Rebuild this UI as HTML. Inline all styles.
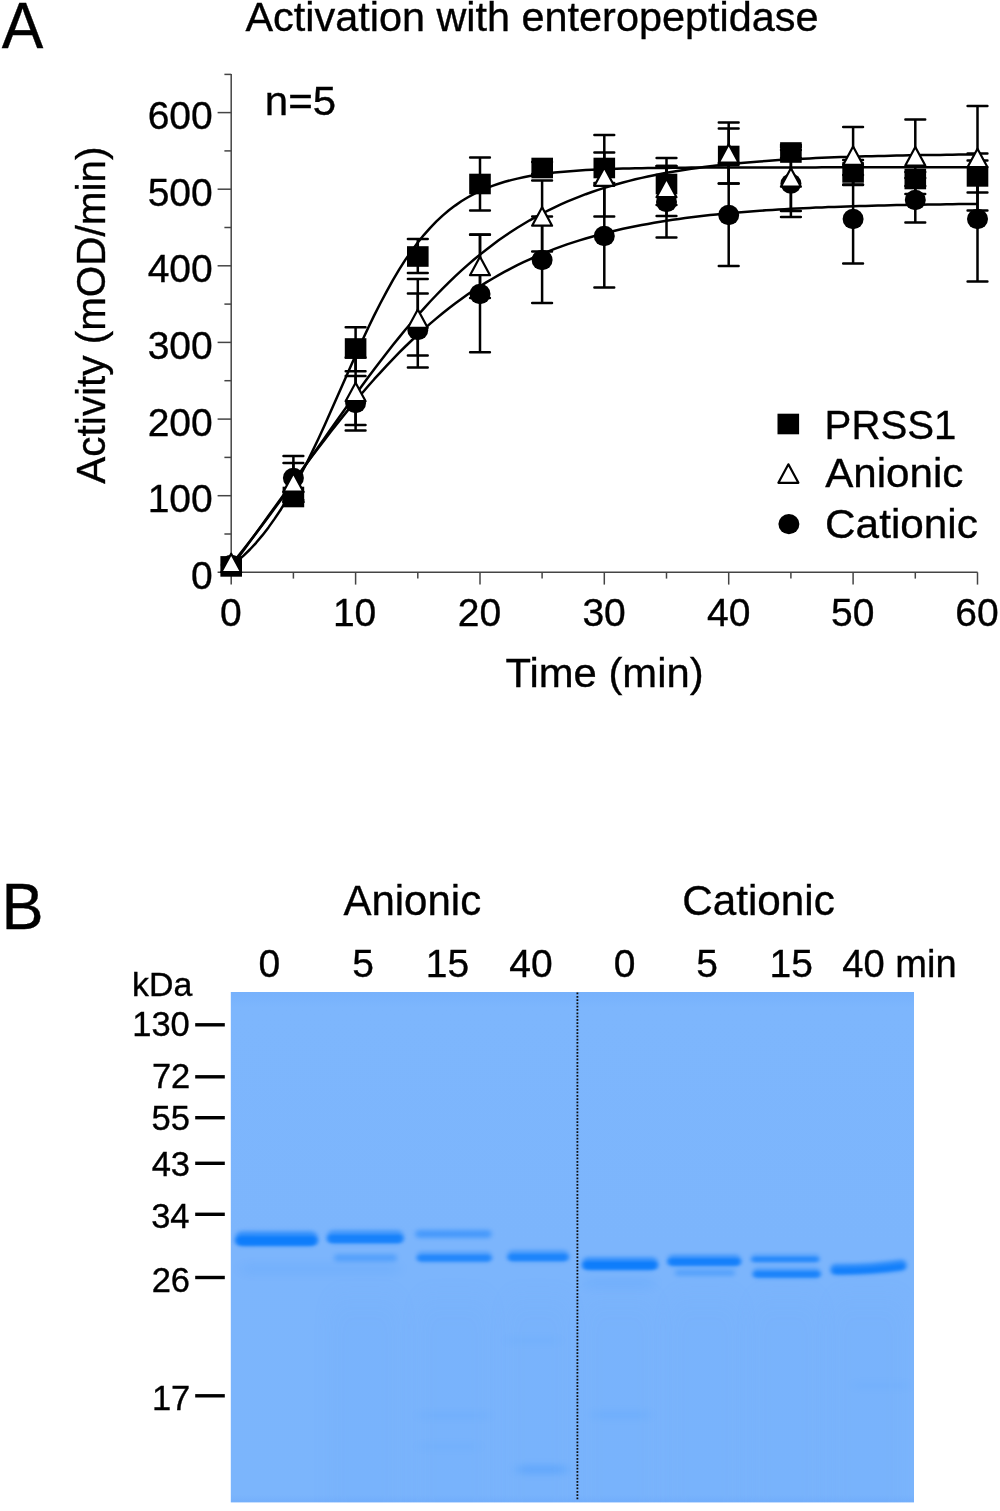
<!DOCTYPE html>
<html lang="en"><head><meta charset="utf-8"><title>Activation with enteropeptidase</title>
<style>html,body{margin:0;padding:0;background:#fff}body{width:1000px;height:1511px;overflow:hidden}svg{display:block}text{font-family:"Liberation Sans",Arial,Helvetica,sans-serif;fill:#000;stroke:#000;stroke-width:0.35px}</style></head><body>
<svg width="1000" height="1511" viewBox="0 0 1000 1511">
<rect width="1000" height="1511" fill="#fff"/>
<g id="panelA">
<text x="1.84" y="47.8" font-size="64" textLength="41.58" lengthAdjust="spacingAndGlyphs" >A</text>
<text x="245.50" y="31" font-size="41.4" >Activation with enteropeptidase</text>
<text x="264.76" y="115" font-size="41.4" textLength="71.38" lengthAdjust="spacingAndGlyphs" >n=5</text>
<g stroke="#444" stroke-width="1.5" fill="none">
<path d="M231.2 74 V584.6"/>
<path d="M217.6 572.3 H977.6"/>
<path d="M224.4 534.0 H231.2"/>
<path d="M217.6 495.7 H231.2"/>
<path d="M224.4 457.4 H231.2"/>
<path d="M217.6 419.1 H231.2"/>
<path d="M224.4 380.7 H231.2"/>
<path d="M217.6 342.4 H231.2"/>
<path d="M224.4 304.1 H231.2"/>
<path d="M217.6 265.8 H231.2"/>
<path d="M224.4 227.5 H231.2"/>
<path d="M217.6 189.2 H231.2"/>
<path d="M224.4 150.9 H231.2"/>
<path d="M217.6 112.6 H231.2"/>
<path d="M224.4 74.4 H231.2"/>
<path d="M293.4 572.3 V578.6"/>
<path d="M355.6 572.3 V584.6"/>
<path d="M417.8 572.3 V578.6"/>
<path d="M480.0 572.3 V584.6"/>
<path d="M542.1 572.3 V578.6"/>
<path d="M604.3 572.3 V584.6"/>
<path d="M666.5 572.3 V578.6"/>
<path d="M728.7 572.3 V584.6"/>
<path d="M790.9 572.3 V578.6"/>
<path d="M853.1 572.3 V584.6"/>
<path d="M915.3 572.3 V578.6"/>
<path d="M977.5 572.3 V584.6"/>
</g>
<text x="191.02" y="588.7" font-size="39" >0</text>
<text x="147.63" y="512.1" font-size="39" >100</text>
<text x="147.63" y="435.5" font-size="39" >200</text>
<text x="147.63" y="358.8" font-size="39" >300</text>
<text x="147.63" y="282.2" font-size="39" >400</text>
<text x="147.63" y="205.6" font-size="39" >500</text>
<text x="147.63" y="129.0" font-size="39" >600</text>
<text x="220.03" y="626.4" font-size="39" >0</text>
<text x="332.90" y="626.4" font-size="39" >10</text>
<text x="457.77" y="626.4" font-size="39" >20</text>
<text x="582.40" y="626.4" font-size="39" >30</text>
<text x="707.07" y="626.4" font-size="39" >40</text>
<text x="831.11" y="626.4" font-size="39" >50</text>
<text x="955.29" y="626.4" font-size="39" >60</text>
<text x="505.56" y="687.2" font-size="41.4" textLength="198.07" lengthAdjust="spacingAndGlyphs" >Time (min)</text>
<text transform="translate(105,483.7) rotate(-90)" font-size="41.4" textLength="337.2" lengthAdjust="spacingAndGlyphs">Activity (mOD/min)</text>
<path d="M231.2 567.1 L237.4 558.7 L243.6 550.2 L249.9 541.6 L256.1 533.1 L262.3 524.5 L268.5 515.8 L274.7 507.2 L281.0 498.6 L287.2 490.0 L293.4 481.5 L299.6 473.0 L305.8 464.6 L312.0 456.3 L318.3 448.0 L324.5 439.9 L330.7 431.8 L336.9 423.9 L343.1 416.1 L349.4 408.4 L355.6 400.9 L361.8 393.5 L368.0 386.3 L374.2 379.2 L380.5 372.3 L386.7 365.6 L392.9 359.1 L399.1 352.7 L405.3 346.5 L411.6 340.5 L417.8 334.7 L424.0 329.1 L430.2 323.6 L436.4 318.4 L442.6 313.3 L448.9 308.3 L455.1 303.6 L461.3 299.0 L467.5 294.6 L473.7 290.4 L480.0 286.4 L486.2 282.4 L492.4 278.7 L498.6 275.1 L504.8 271.7 L511.1 268.4 L517.3 265.2 L523.5 262.2 L529.7 259.3 L535.9 256.5 L542.1 253.9 L548.4 251.3 L554.6 248.9 L560.8 246.6 L567.0 244.4 L573.2 242.4 L579.5 240.4 L585.7 238.5 L591.9 236.7 L598.1 234.9 L604.3 233.3 L610.6 231.7 L616.8 230.3 L623.0 228.8 L629.2 227.5 L635.4 226.2 L641.7 225.0 L647.9 223.9 L654.1 222.8 L660.3 221.7 L666.5 220.7 L672.7 219.8 L679.0 218.9 L685.2 218.1 L691.4 217.3 L697.6 216.5 L703.8 215.8 L710.1 215.1 L716.3 214.4 L722.5 213.8 L728.7 213.2 L734.9 212.7 L741.2 212.2 L747.4 211.7 L753.6 211.2 L759.8 210.8 L766.0 210.3 L772.3 209.9 L778.5 209.5 L784.7 209.2 L790.9 208.8 L797.1 208.5 L803.3 208.2 L809.6 207.9 L815.8 207.6 L822.0 207.4 L828.2 207.1 L834.4 206.9 L840.7 206.7 L846.9 206.5 L853.1 206.3 L859.3 206.1 L865.5 205.9 L871.8 205.7 L878.0 205.6 L884.2 205.4 L890.4 205.3 L896.6 205.1 L902.9 205.0 L909.1 204.9 L915.3 204.8 L921.5 204.7 L927.7 204.6 L933.9 204.5 L940.2 204.4 L946.4 204.3 L952.6 204.2 L958.8 204.1 L965.0 204.0 L971.3 204.0 L977.5 203.9" fill="none" stroke="#000" stroke-width="2.5" stroke-linejoin="round"/>
<path d="M231.2 566.1 L237.4 561.1 L243.6 555.6 L249.9 549.5 L256.1 542.8 L262.3 535.4 L268.5 527.4 L274.7 518.6 L281.0 509.2 L287.2 499.1 L293.4 488.3 L299.6 476.8 L305.8 464.7 L312.0 452.1 L318.3 439.0 L324.5 425.4 L330.7 411.6 L336.9 397.5 L343.1 383.4 L349.4 369.3 L355.6 355.3 L361.8 341.6 L368.0 328.3 L374.2 315.4 L380.5 303.0 L386.7 291.3 L392.9 280.1 L399.1 269.7 L405.3 259.9 L411.6 250.9 L417.8 242.5 L424.0 234.8 L430.2 227.8 L436.4 221.4 L442.6 215.6 L448.9 210.3 L455.1 205.6 L461.3 201.3 L467.5 197.5 L473.7 194.1 L480.0 191.0 L486.2 188.3 L492.4 185.9 L498.6 183.7 L504.8 181.8 L511.1 180.1 L517.3 178.6 L523.5 177.3 L529.7 176.1 L535.9 175.0 L542.1 174.1 L548.4 173.3 L554.6 172.6 L560.8 172.0 L567.0 171.4 L573.2 170.9 L579.5 170.5 L585.7 170.1 L591.9 169.8 L598.1 169.5 L604.3 169.2 L610.6 169.0 L616.8 168.8 L623.0 168.6 L629.2 168.5 L635.4 168.3 L641.7 168.2 L647.9 168.1 L654.1 168.0 L660.3 167.9 L666.5 167.9 L672.7 167.8 L679.0 167.7 L685.2 167.7 L691.4 167.6 L697.6 167.6 L703.8 167.6 L710.1 167.5 L716.3 167.5 L722.5 167.5 L728.7 167.5 L734.9 167.5 L741.2 167.4 L747.4 167.4 L753.6 167.4 L759.8 167.4 L766.0 167.4 L772.3 167.4 L778.5 167.4 L784.7 167.4 L790.9 167.4 L797.1 167.4 L803.3 167.4 L809.6 167.4 L815.8 167.4 L822.0 167.3 L828.2 167.3 L834.4 167.3 L840.7 167.3 L846.9 167.3 L853.1 167.3 L859.3 167.3 L865.5 167.3 L871.8 167.3 L878.0 167.3 L884.2 167.3 L890.4 167.3 L896.6 167.3 L902.9 167.3 L909.1 167.3 L915.3 167.3 L921.5 167.3 L927.7 167.3 L933.9 167.3 L940.2 167.3 L946.4 167.3 L952.6 167.3 L958.8 167.3 L965.0 167.3 L971.3 167.3 L977.5 167.3" fill="none" stroke="#000" stroke-width="2.5" stroke-linejoin="round"/>
<path d="M231.2 564.6 L237.4 557.0 L243.6 549.2 L249.9 541.3 L256.1 533.3 L262.3 525.1 L268.5 516.8 L274.7 508.3 L281.0 499.8 L287.2 491.1 L293.4 482.4 L299.6 473.6 L305.8 464.8 L312.0 455.9 L318.3 447.1 L324.5 438.2 L330.7 429.3 L336.9 420.5 L343.1 411.8 L349.4 403.0 L355.6 394.4 L361.8 385.9 L368.0 377.5 L374.2 369.2 L380.5 361.0 L386.7 353.0 L392.9 345.1 L399.1 337.4 L405.3 329.8 L411.6 322.5 L417.8 315.3 L424.0 308.3 L430.2 301.5 L436.4 295.0 L442.6 288.6 L448.9 282.4 L455.1 276.4 L461.3 270.7 L467.5 265.1 L473.7 259.8 L480.0 254.6 L486.2 249.7 L492.4 244.9 L498.6 240.3 L504.8 236.0 L511.1 231.8 L517.3 227.8 L523.5 224.0 L529.7 220.3 L535.9 216.8 L542.1 213.5 L548.4 210.3 L554.6 207.3 L560.8 204.4 L567.0 201.7 L573.2 199.1 L579.5 196.6 L585.7 194.2 L591.9 192.0 L598.1 189.9 L604.3 187.9 L610.6 186.0 L616.8 184.2 L623.0 182.5 L629.2 180.9 L635.4 179.3 L641.7 177.9 L647.9 176.5 L654.1 175.2 L660.3 174.0 L666.5 172.8 L672.7 171.7 L679.0 170.7 L685.2 169.7 L691.4 168.8 L697.6 167.9 L703.8 167.1 L710.1 166.3 L716.3 165.6 L722.5 164.9 L728.7 164.2 L734.9 163.6 L741.2 163.0 L747.4 162.4 L753.6 161.9 L759.8 161.4 L766.0 161.0 L772.3 160.5 L778.5 160.1 L784.7 159.7 L790.9 159.4 L797.1 159.0 L803.3 158.7 L809.6 158.4 L815.8 158.1 L822.0 157.8 L828.2 157.6 L834.4 157.3 L840.7 157.1 L846.9 156.9 L853.1 156.7 L859.3 156.5 L865.5 156.3 L871.8 156.2 L878.0 156.0 L884.2 155.9 L890.4 155.7 L896.6 155.6 L902.9 155.5 L909.1 155.3 L915.3 155.2 L921.5 155.1 L927.7 155.0 L933.9 154.9 L940.2 154.9 L946.4 154.8 L952.6 154.7 L958.8 154.6 L965.0 154.6 L971.3 154.5 L977.5 154.4" fill="none" stroke="#000" stroke-width="2.5" stroke-linejoin="round"/>
<g stroke="#000" stroke-width="2.5" stroke-linecap="round" fill="none">
<path d="M293.4 456 V500 M283.5 456 H303.3 M283.5 500 H303.3"/>
<path d="M355.6 376 V430.6 M345.7 376 H365.5 M345.7 430.6 H365.5"/>
<path d="M417.8 293.4 V367.6 M407.9 293.4 H427.7 M407.9 367.6 H427.7"/>
<path d="M480.0 234.8 V352.2 M470.1 234.8 H489.9 M470.1 352.2 H489.9"/>
<path d="M542.1 216.4 V303 M532.2 216.4 H552.0 M532.2 303 H552.0"/>
<path d="M604.3 185 V287.5 M594.4 185 H614.2 M594.4 287.5 H614.2"/>
<path d="M666.5 166 V237.6 M656.6 166 H676.4 M656.6 237.6 H676.4"/>
<path d="M728.7 164 V266 M718.8 164 H738.6 M718.8 266 H738.6"/>
<path d="M790.9 150 V217 M781.0 150 H800.8 M781.0 217 H800.8"/>
<path d="M853.1 175 V263.5 M843.2 175 H863.0 M843.2 263.5 H863.0"/>
<path d="M915.3 178 V222.6 M905.4 178 H925.2 M905.4 222.6 H925.2"/>
<path d="M977.5 153.6 V281.5 M967.6 153.6 H987.4 M967.6 281.5 H987.4"/>
</g>
<ellipse cx="231.2" cy="565.0" rx="10.5" ry="10.2" fill="#000"/>
<ellipse cx="293.4" cy="478.0" rx="10.5" ry="10.2" fill="#000"/>
<ellipse cx="355.6" cy="403.0" rx="10.5" ry="10.2" fill="#000"/>
<ellipse cx="417.8" cy="330.0" rx="10.5" ry="10.2" fill="#000"/>
<ellipse cx="480.0" cy="294.0" rx="10.5" ry="10.2" fill="#000"/>
<ellipse cx="542.1" cy="260.0" rx="10.5" ry="10.2" fill="#000"/>
<ellipse cx="604.3" cy="236.0" rx="10.5" ry="10.2" fill="#000"/>
<ellipse cx="666.5" cy="202.0" rx="10.5" ry="10.2" fill="#000"/>
<ellipse cx="728.7" cy="215.0" rx="10.5" ry="10.2" fill="#000"/>
<ellipse cx="790.9" cy="183.6" rx="10.5" ry="10.2" fill="#000"/>
<ellipse cx="853.1" cy="219.0" rx="10.5" ry="10.2" fill="#000"/>
<ellipse cx="915.3" cy="200.0" rx="10.5" ry="10.2" fill="#000"/>
<ellipse cx="977.5" cy="219.0" rx="10.5" ry="10.2" fill="#000"/>
<g stroke="#000" stroke-width="2.5" stroke-linecap="round" fill="none">
<path d="M293.4 492 V502 M283.5 492 H303.3 M283.5 502 H303.3"/>
<path d="M355.6 327.2 V371.2 M345.7 327.2 H365.5 M345.7 371.2 H365.5"/>
<path d="M417.8 239 V273 M407.9 239 H427.7 M407.9 273 H427.7"/>
<path d="M480.0 157.4 V210.4 M470.1 157.4 H489.9 M470.1 210.4 H489.9"/>
<path d="M542.1 162 V174 M532.2 162 H552.0 M532.2 174 H552.0"/>
<path d="M604.3 152.6 V183 M594.4 152.6 H614.2 M594.4 183 H614.2"/>
<path d="M666.5 158 V216 M656.6 158 H676.4 M656.6 216 H676.4"/>
<path d="M728.7 128.6 V183.6 M718.8 128.6 H738.6 M718.8 183.6 H738.6"/>
<path d="M790.9 147 V158 M781.0 147 H800.8 M781.0 158 H800.8"/>
<path d="M853.1 160 V185 M843.2 160 H863.0 M843.2 185 H863.0"/>
<path d="M915.3 172 V186 M905.4 172 H925.2 M905.4 186 H925.2"/>
<path d="M977.5 160.4 V192.4 M967.6 160.4 H987.4 M967.6 192.4 H987.4"/>
</g>
<rect x="220.4" y="556.1" width="21.6" height="20.6" fill="#000"/>
<rect x="282.6" y="486.7" width="21.6" height="20.6" fill="#000"/>
<rect x="344.8" y="338.2" width="21.6" height="20.6" fill="#000"/>
<rect x="407.0" y="246.2" width="21.6" height="20.6" fill="#000"/>
<rect x="469.2" y="173.7" width="21.6" height="20.6" fill="#000"/>
<rect x="531.4" y="157.7" width="21.6" height="20.6" fill="#000"/>
<rect x="593.5" y="157.7" width="21.6" height="20.6" fill="#000"/>
<rect x="655.7" y="173.7" width="21.6" height="20.6" fill="#000"/>
<rect x="717.9" y="145.7" width="21.6" height="20.6" fill="#000"/>
<rect x="780.1" y="142.2" width="21.6" height="20.6" fill="#000"/>
<rect x="842.3" y="162.1" width="21.6" height="20.6" fill="#000"/>
<rect x="904.5" y="168.7" width="21.6" height="20.6" fill="#000"/>
<rect x="966.7" y="166.1" width="21.6" height="20.6" fill="#000"/>
<g stroke="#000" stroke-width="2.5" stroke-linecap="round" fill="none">
<path d="M293.4 463 V502 M283.5 463 H303.3 M283.5 502 H303.3"/>
<path d="M355.6 357.6 V425 M345.7 357.6 H365.5 M345.7 425 H365.5"/>
<path d="M417.8 279 V355.4 M407.9 279 H427.7 M407.9 355.4 H427.7"/>
<path d="M480.0 234.6 V298 M470.1 234.6 H489.9 M470.1 298 H489.9"/>
<path d="M542.1 180.4 V251.4 M532.2 180.4 H552.0 M532.2 251.4 H552.0"/>
<path d="M604.3 135 V216.4 M594.4 135 H614.2 M594.4 216.4 H614.2"/>
<path d="M666.5 166 V205 M656.6 166 H676.4 M656.6 205 H676.4"/>
<path d="M728.7 122.6 V183.6 M718.8 122.6 H738.6 M718.8 183.6 H738.6"/>
<path d="M790.9 145 V211 M781.0 145 H800.8 M781.0 211 H800.8"/>
<path d="M853.1 127 V184.4 M843.2 127 H863.0 M843.2 184.4 H863.0"/>
<path d="M915.3 119.6 V194 M905.4 119.6 H925.2 M905.4 194 H925.2"/>
<path d="M977.5 106 V210.6 M967.6 106 H987.4 M967.6 210.6 H987.4"/>
</g>
<path d="M231.2 553.7 L241.2 572.2 H221.2 Z" fill="#fff" stroke="#000" stroke-width="2.2" stroke-linejoin="round"/>
<path d="M293.4 473.2 L303.4 491.7 H283.4 Z" fill="#fff" stroke="#000" stroke-width="2.2" stroke-linejoin="round"/>
<path d="M355.6 382.7 L365.6 401.2 H345.6 Z" fill="#fff" stroke="#000" stroke-width="2.2" stroke-linejoin="round"/>
<path d="M417.8 309.4 L427.8 327.9 H407.8 Z" fill="#fff" stroke="#000" stroke-width="2.2" stroke-linejoin="round"/>
<path d="M480.0 256.7 L490.0 275.2 H470.0 Z" fill="#fff" stroke="#000" stroke-width="2.2" stroke-linejoin="round"/>
<path d="M542.1 207.2 L552.1 225.7 H532.1 Z" fill="#fff" stroke="#000" stroke-width="2.2" stroke-linejoin="round"/>
<path d="M604.3 167.4 L614.3 185.9 H594.3 Z" fill="#fff" stroke="#000" stroke-width="2.2" stroke-linejoin="round"/>
<path d="M666.5 178.7 L676.5 197.2 H656.5 Z" fill="#fff" stroke="#000" stroke-width="2.2" stroke-linejoin="round"/>
<path d="M728.7 144.2 L738.7 162.7 H718.7 Z" fill="#fff" stroke="#000" stroke-width="2.2" stroke-linejoin="round"/>
<path d="M790.9 168.2 L800.9 186.7 H780.9 Z" fill="#fff" stroke="#000" stroke-width="2.2" stroke-linejoin="round"/>
<path d="M853.1 146.4 L863.1 164.9 H843.1 Z" fill="#fff" stroke="#000" stroke-width="2.2" stroke-linejoin="round"/>
<path d="M915.3 147.0 L925.3 165.5 H905.3 Z" fill="#fff" stroke="#000" stroke-width="2.2" stroke-linejoin="round"/>
<path d="M977.5 148.7 L987.5 167.2 H967.5 Z" fill="#fff" stroke="#000" stroke-width="2.2" stroke-linejoin="round"/>
<rect x="777.5" y="413.7" width="21.6" height="20.6" fill="#000"/>
<path d="M788.4 464.3 L798.4 482.8 H778.4 Z" fill="#fff" stroke="#000" stroke-width="2.2" stroke-linejoin="round"/>
<ellipse cx="788.9" cy="524.1" rx="10.5" ry="10.2" fill="#000"/>
<text x="824.58" y="438.9" font-size="41.4" textLength="131.80" lengthAdjust="spacingAndGlyphs" >PRSS1</text>
<text x="825.19" y="487.4" font-size="41.4" textLength="138.26" lengthAdjust="spacingAndGlyphs" >Anionic</text>
<text x="825.09" y="538.3" font-size="41.4" textLength="152.80" lengthAdjust="spacingAndGlyphs" >Cationic</text>
</g>
<g id="panelB">
<text x="1.49" y="928.8" font-size="64" textLength="42.09" lengthAdjust="spacingAndGlyphs" >B</text>
<text x="343.39" y="915.2" font-size="42" >Anionic</text>
<text x="682.19" y="915.2" font-size="42" textLength="152.69" lengthAdjust="spacingAndGlyphs" >Cationic</text>
<text x="258.53" y="976.6" font-size="39" >0</text>
<text x="352.18" y="976.6" font-size="39" >5</text>
<text x="425.87" y="976.6" font-size="39" >15</text>
<text x="509.35" y="976.6" font-size="39" >40</text>
<text x="613.83" y="976.6" font-size="39" >0</text>
<text x="696.18" y="976.6" font-size="39" >5</text>
<text x="769.57" y="976.6" font-size="39" >15</text>
<text x="842.34" y="976.6" font-size="39" textLength="114.29" lengthAdjust="spacingAndGlyphs" >40 min</text>
<text x="132.11" y="996" font-size="33.6" textLength="60.21" lengthAdjust="spacingAndGlyphs" >kDa</text>
<text x="132.26" y="1036.3" font-size="34.5" >130</text>
<rect x="195.2" y="1023.1" width="29.6" height="3.4" fill="#000"/>
<text x="151.93" y="1088.4" font-size="34.5" >72</text>
<rect x="195.2" y="1075.1" width="29.6" height="3.4" fill="#000"/>
<text x="151.59" y="1129.8" font-size="34.5" >55</text>
<rect x="195.2" y="1116.0" width="29.6" height="3.4" fill="#000"/>
<text x="151.67" y="1176.0" font-size="34.5" >43</text>
<rect x="195.2" y="1161.6" width="29.6" height="3.4" fill="#000"/>
<text x="151.15" y="1227.8" font-size="34.5" >34</text>
<rect x="195.2" y="1212.6" width="29.6" height="3.4" fill="#000"/>
<text x="151.67" y="1292.0" font-size="34.5" >26</text>
<rect x="195.2" y="1275.8" width="29.6" height="3.4" fill="#000"/>
<text x="151.93" y="1410.2" font-size="34.5" >17</text>
<rect x="195.2" y="1394.1" width="29.6" height="3.4" fill="#000"/>
<defs>
<linearGradient id="gelbg" x1="0" y1="0" x2="0" y2="1"><stop offset="0" stop-color="#76b1fc"/><stop offset="0.03" stop-color="#7db6fd"/><stop offset="0.5" stop-color="#7cb5fc"/><stop offset="0.985" stop-color="#7bb5fc"/><stop offset="1" stop-color="#74affb"/></linearGradient>
<filter id="fh" x="-30%" y="-300%" width="160%" height="700%"><feGaussianBlur stdDeviation="2.2 2.0"/></filter>
<filter id="fc" x="-30%" y="-300%" width="160%" height="700%"><feGaussianBlur stdDeviation="2.2 1.3"/></filter>
<filter id="ft" x="-30%" y="-300%" width="160%" height="700%"><feGaussianBlur stdDeviation="2.5 2.1"/></filter>
<filter id="ff" x="-30%" y="-300%" width="160%" height="700%"><feGaussianBlur stdDeviation="6 3.5"/></filter>
<clipPath id="gelclip"><rect x="230.8" y="992.0" width="683.2" height="510.4"/></clipPath>
</defs>
<rect x="230.8" y="992.0" width="683.2" height="510.4" fill="url(#gelbg)"/>
<g clip-path="url(#gelclip)">
<rect x="235.0" y="1231.5" width="83.0" height="14.4" rx="7.2" fill="#0676fb" opacity="0.64" filter="url(#fh)"/>
<rect x="236.0" y="1236.6" width="81.0" height="8.9" rx="4.4" fill="#0676fb" opacity="0.68" filter="url(#fc)"/>
<rect x="326.7" y="1230.5" width="77.1" height="12.9" rx="6.5" fill="#0676fb" opacity="0.54" filter="url(#fh)"/>
<rect x="327.7" y="1235.0" width="75.1" height="8.0" rx="4.0" fill="#0676fb" opacity="0.58" filter="url(#fc)"/>
<rect x="334.0" y="1254.0" width="63.0" height="7.5" rx="3.8" fill="#0676fb" opacity="0.30" filter="url(#ft)"/>
<rect x="415.4" y="1230.0" width="76.1" height="8.0" rx="4.0" fill="#0676fb" opacity="0.42" filter="url(#ft)"/>
<rect x="416.5" y="1252.0" width="75.5" height="9.9" rx="5.0" fill="#0676fb" opacity="0.45" filter="url(#fh)"/>
<rect x="417.5" y="1255.2" width="73.5" height="6.2" rx="3.1" fill="#0676fb" opacity="0.48" filter="url(#fc)"/>
<rect x="507.2" y="1250.5" width="61.8" height="10.9" rx="5.5" fill="#0676fb" opacity="0.50" filter="url(#fh)"/>
<rect x="508.2" y="1254.2" width="59.8" height="6.8" rx="3.4" fill="#0676fb" opacity="0.53" filter="url(#fc)"/>
<rect x="581.9" y="1257.5" width="76.2" height="12.4" rx="6.2" fill="#0676fb" opacity="0.64" filter="url(#fh)"/>
<rect x="582.9" y="1261.8" width="74.2" height="7.7" rx="3.9" fill="#0676fb" opacity="0.68" filter="url(#fc)"/>
<rect x="667.3" y="1255.0" width="73.9" height="10.9" rx="5.5" fill="#0676fb" opacity="0.58" filter="url(#fh)"/>
<rect x="668.3" y="1258.7" width="71.9" height="6.8" rx="3.4" fill="#0676fb" opacity="0.61" filter="url(#fc)"/>
<rect x="675.0" y="1269.5" width="60.0" height="6.5" rx="3.2" fill="#0676fb" opacity="0.30" filter="url(#ft)"/>
<rect x="751.0" y="1254.5" width="68.5" height="7.9" rx="4.0" fill="#0676fb" opacity="0.42" filter="url(#fh)"/>
<rect x="752.0" y="1256.9" width="66.5" height="5.1" rx="2.5" fill="#0676fb" opacity="0.45" filter="url(#fc)"/>
<rect x="752.5" y="1268.5" width="68.4" height="9.4" rx="4.7" fill="#0676fb" opacity="0.51" filter="url(#fh)"/>
<rect x="753.5" y="1271.5" width="66.4" height="6.0" rx="3.0" fill="#0676fb" opacity="0.54" filter="url(#fc)"/>
<path d="M835.5 1269.4 Q868 1269.9 901.5 1265.2" fill="none" stroke="#0676fb" stroke-width="10.5" stroke-linecap="round" opacity="0.72" filter="url(#fh)"/>
<path d="M835.5 1269.4 Q868 1269.9 901.5 1265.2" fill="none" stroke="#0676fb" stroke-width="5.2" stroke-linecap="round" opacity="0.45" filter="url(#fc)" transform="translate(0 2.1)"/>
<rect x="517.0" y="1465.5" width="50.0" height="8.0" rx="4.0" fill="#0676fb" opacity="0.20" filter="url(#ff)"/>
<rect x="592.0" y="1411.0" width="58.0" height="8.0" rx="4.0" fill="#0676fb" opacity="0.07" filter="url(#ff)"/>
<rect x="418.0" y="1443.0" width="62.0" height="7.0" rx="3.5" fill="#0676fb" opacity="0.04" filter="url(#ff)"/>
<rect x="418.0" y="1412.0" width="72.0" height="7.0" rx="3.5" fill="#0676fb" opacity="0.05" filter="url(#ff)"/>
<rect x="506.0" y="1337.0" width="54.0" height="7.0" rx="3.5" fill="#0676fb" opacity="0.04" filter="url(#ff)"/>
<rect x="852.0" y="1382.0" width="58.0" height="7.0" rx="3.5" fill="#0676fb" opacity="0.04" filter="url(#ff)"/>
<rect x="583.0" y="1276.0" width="72.0" height="14.0" rx="7.0" fill="#0676fb" opacity="0.05" filter="url(#ff)"/>
<rect x="240.0" y="1262.0" width="160.0" height="14.0" rx="7.0" fill="#0676fb" opacity="0.05" filter="url(#ff)"/>
<filter id="fs" x="-30%" y="-300%" width="160%" height="700%"><feGaussianBlur stdDeviation="10 14"/></filter>
<rect x="330" y="1300" width="70" height="230" fill="#5d9ff8" opacity="0.07" filter="url(#fs)"/>
<rect x="418" y="1300" width="72" height="230" fill="#5d9ff8" opacity="0.07" filter="url(#fs)"/>
<rect x="506" y="1300" width="64" height="230" fill="#5d9ff8" opacity="0.07" filter="url(#fs)"/>
<rect x="584" y="1300" width="72" height="230" fill="#5d9ff8" opacity="0.07" filter="url(#fs)"/>
<rect x="670" y="1300" width="70" height="230" fill="#5d9ff8" opacity="0.07" filter="url(#fs)"/>
<rect x="752" y="1300" width="68" height="230" fill="#5d9ff8" opacity="0.07" filter="url(#fs)"/>
<rect x="832" y="1300" width="73" height="230" fill="#5d9ff8" opacity="0.07" filter="url(#fs)"/>
</g>
<path d="M577.4 992.6 V1500.4" stroke="#0a0a0a" stroke-width="1.8" stroke-dasharray="1.75 1.55" fill="none"/>
</g>
</svg></body></html>
